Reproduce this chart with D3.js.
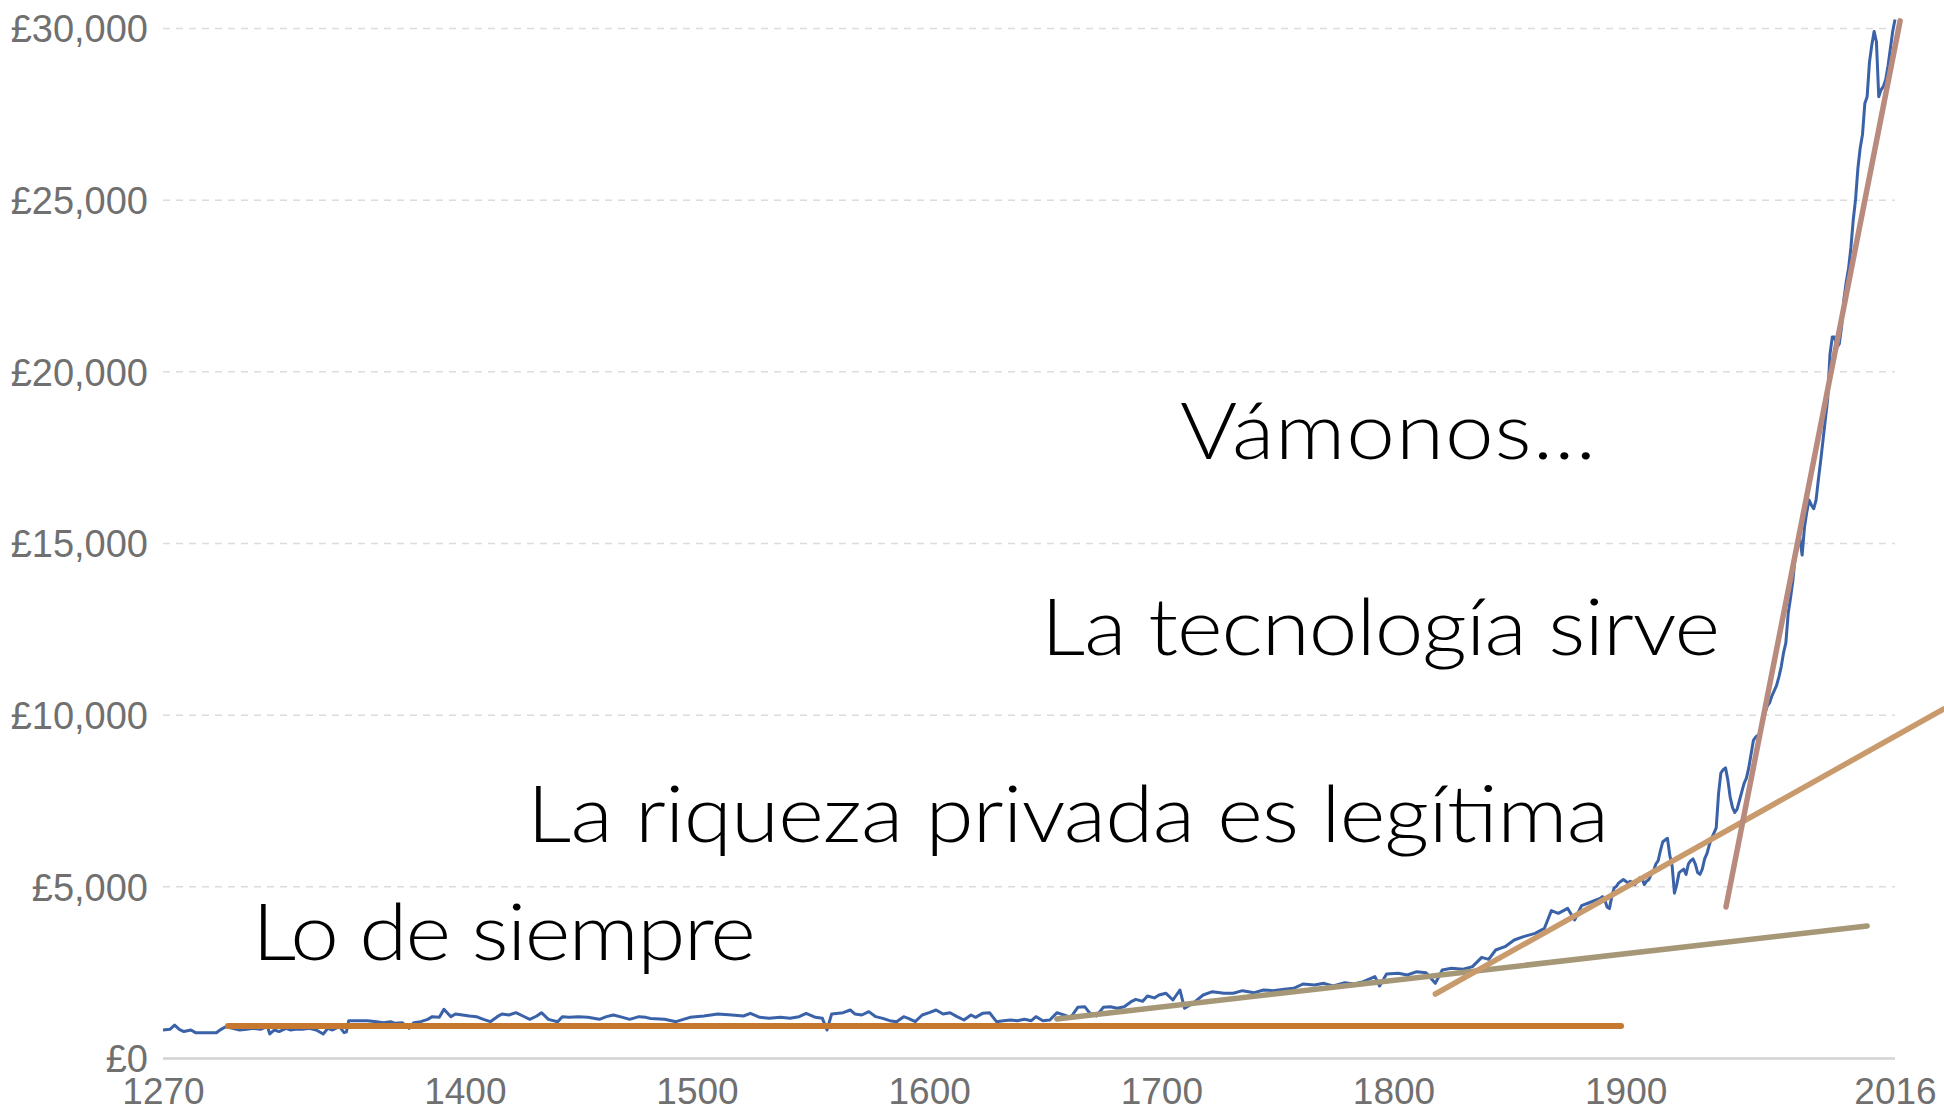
<!DOCTYPE html>
<head>
  <title>PIB por persona en Inglaterra 1270 - 2016</title>
  <meta charset="utf-8">
  <script type="text/javascript" src="https://d3js.org/d3.v7.min.js"></script>
  <style>
    body { margin: 0; background: #ffffff; }
  </style>
</head>

<body>

<div id="container"></div>

<script>

  let svg_width = 1944;
  let svg_height = 1112;

  let padding = {
    top: 28,
    right: 49,
    bottom: 54,
    left: 163
  };

  // GDP per head (£), split by period
  let gdp_medieval = [[1270, 816], [1273, 835], [1275, 960], [1277, 835], [1279, 770], [1282, 816], [1284, 738],
    [1287, 738], [1290, 738], [1293, 738], [1295, 835], [1297, 912], [1300, 864], [1303, 816], [1306, 835],
    [1309, 864], [1312, 835], [1315, 912], [1316, 700], [1318, 816], [1320, 770], [1323, 864], [1325, 816],
    [1327, 835], [1330, 835], [1333, 864], [1336, 816], [1339, 700], [1341, 864], [1343, 816], [1346, 912],
    [1348, 738], [1349, 760], [1350, 1087], [1353, 1087], [1358, 1087], [1362, 1058], [1365, 1030], [1368, 1058],
    [1370, 1010], [1373, 1030], [1376, 864], [1378, 1030], [1381, 1058], [1384, 1126], [1386, 1204], [1389, 1184],
    [1391, 1418], [1394, 1204], [1396, 1282], [1399, 1252], [1402, 1223], [1405, 1204], [1408, 1126], [1411, 1058],
    [1414, 1204], [1416, 1282], [1419, 1252], [1422, 1320], [1425, 1223], [1428, 1126], [1431, 1223], [1433, 1320],
    [1436, 1126], [1440, 1058], [1442, 1204], [1445, 1184], [1449, 1204], [1453, 1184], [1458, 1126], [1461, 1204],
    [1464, 1252], [1468, 1184], [1471, 1126], [1475, 1204], [1478, 1184]];

  let gdp_early_modern = [[1480, 1150], [1486, 1126], [1491, 1058], [1497, 1184], [1503, 1223], [1509, 1282],
    [1515, 1252], [1520, 1223], [1523, 1301], [1527, 1184], [1531, 1155], [1536, 1184], [1540, 1155], [1544, 1204],
    [1547, 1301], [1551, 1184], [1554, 1155], [1556, 816], [1558, 1282], [1563, 1320], [1566, 1398], [1568, 1282],
    [1571, 1252], [1574, 1350], [1577, 1204], [1580, 1155], [1583, 1087], [1586, 1058], [1589, 1204], [1591, 1155],
    [1594, 1058], [1597, 1252], [1600, 1320], [1603, 1398], [1606, 1282], [1609, 1320], [1612, 1204], [1615, 1107],
    [1618, 1252], [1620, 1184], [1623, 1301], [1626, 1320], [1629, 1058], [1632, 1087], [1635, 1107], [1638, 1087],
    [1641, 1126], [1644, 1087], [1646, 1204], [1649, 1087], [1652, 1107], [1655, 1320], [1658, 1252], [1661, 1184],
    [1664, 1476], [1667, 1495], [1669, 1320], [1672, 1223], [1675, 1476], [1678, 1495], [1681, 1447], [1684, 1495],
    [1687, 1641], [1689, 1709], [1692, 1650], [1694, 1806]];

  let gdp_industrial = [[1697, 1750], [1699, 1835], [1702, 1884], [1705, 1689], [1708, 1981], [1710, 1447],
    [1714, 1612], [1718, 1835], [1722, 1932], [1727, 1884], [1731, 1884], [1735, 1961], [1740, 1903], [1744, 1981],
    [1748, 1961], [1753, 2000], [1757, 2029], [1761, 2155], [1766, 2126], [1770, 2175], [1774, 2097], [1779, 2194],
    [1783, 2155], [1787, 2223], [1792, 2369], [1794, 2097], [1797, 2447], [1802, 2466], [1806, 2418], [1810, 2515],
    [1814, 2486], [1818, 2175], [1821, 2563], [1825, 2612], [1830, 2583], [1834, 2660], [1838, 2932], [1841, 2874],
    [1844, 3146], [1848, 3243], [1852, 3437], [1856, 3534], [1861, 3631], [1865, 3777], [1868, 4292], [1871, 4214],
    [1875, 4359], [1878, 4020], [1881, 4437], [1884, 4515]];

  let gdp_modern = [[1889, 4650], [1890, 4700], [1891, 4600], [1892, 4400], [1893, 4350], [1894, 4700],
    [1895, 4950], [1896, 5000], [1897, 5100], [1898, 5150], [1899, 5200], [1900, 5150], [1901, 5100], [1902, 5150],
    [1903, 5100], [1904, 5050], [1905, 5150], [1906, 5250], [1907, 5250], [1908, 5050], [1909, 5150], [1910, 5200],
    [1911, 5350], [1912, 5450], [1913, 5650], [1914, 5750], [1915, 6050], [1916, 6300], [1917, 6350], [1918, 6400],
    [1919, 5900], [1920, 5600], [1921, 4800], [1922, 5050], [1923, 5400], [1924, 5450], [1925, 5500], [1926, 5350],
    [1927, 5650], [1928, 5750], [1929, 5800], [1930, 5650], [1931, 5400], [1932, 5350], [1933, 5500], [1934, 5800],
    [1935, 5950], [1936, 6200], [1937, 6400], [1938, 6550], [1939, 6700], [1940, 7700], [1941, 8300], [1942, 8400],
    [1943, 8450], [1944, 8100], [1945, 7600], [1946, 7300], [1947, 7150], [1948, 7250], [1949, 7500], [1950, 7750],
    [1951, 8000], [1952, 8150], [1953, 8450], [1954, 8850], [1955, 9250], [1956, 9350], [1957, 9400], [1958, 9450],
    [1959, 9750], [1960, 10050], [1961, 10250], [1962, 10350], [1963, 10550], [1964, 10700], [1965, 10850],
    [1966, 11100], [1967, 11400], [1968, 11800], [1969, 12100], [1970, 12950], [1971, 13400], [1972, 13900],
    [1973, 14600], [1974, 14900], [1975, 15150], [1976, 14650], [1977, 15450], [1978, 15900], [1979, 16250],
    [1980, 16100], [1981, 16000], [1982, 16250], [1983, 16850], [1984, 17400], [1985, 18000], [1986, 18600],
    [1987, 19200], [1988, 20500], [1989, 21000], [1990, 21000], [1991, 20700], [1992, 20800], [1993, 21300],
    [1994, 22100], [1995, 22600], [1996, 23000], [1997, 23600], [1998, 24400], [1999, 25000], [2000, 25900],
    [2001, 26500], [2002, 26900], [2003, 27800], [2004, 28000], [2005, 29000], [2006, 29500], [2007, 29900],
    [2008, 29600], [2009, 28000], [2010, 28200], [2011, 28300], [2012, 28500], [2013, 28900], [2014, 29400],
    [2015, 29900], [2016, 30250]];

  let x_ticks = [1270, 1400, 1500, 1600, 1700, 1800, 1900, 2016];
  let y_ticks = [0, 5000, 10000, 15000, 20000, 25000, 30000];

  // the four hand drawn trend lines: [year, £]
  let trend_siempre = [[1298, 930], [1898, 930]];
  let trend_riqueza = [[1655, 1136], [2004, 3845]];
  let trend_tecnologia = [[1818, 1864], [2037, 10166]];
  let trend_vamonos = [[1943.2, 4398], [2018.2, 30207]];

  let annotation_labels = ["Lo de siempre", "La riqueza privada es legítima", "La tecnología sirve", "Vámonos…"];

  let trend_colors = ["#c7782f", "#a69877", "#c99a6b", "#b98b7f"];

  let gdp_data = gdp_medieval.concat(gdp_early_modern, gdp_industrial, gdp_modern);

  let xScale = d3.scaleLinear()
          .domain([1270, 2016])
          .range([padding.left, svg_width - padding.right]);

  let yScale = d3.scaleLinear()
          .domain([0, 30000])
          .range([svg_height - padding.bottom, padding.top]);

  let svg = d3.select("#container").append("svg")
          .attr("width", svg_width)
          .attr("height", svg_height)
          .style("display", "block");

  // grid lines
  svg.append("g")
          .attr("class", "grid")
          .attr("transform", "translate(" + padding.left + ",0)")
          .call(d3.axisLeft(yScale)
                  .tickValues(y_ticks)
                  .tickSize(-(svg_width - padding.right - padding.left))
                  .tickFormat(""))
          .call(function (g) { g.select(".domain").remove(); })
          .selectAll(".tick line")
          .attr("stroke", function (d) { return d === 0 ? "#d2d2d2" : "#dcdcdc"; })
          .attr("stroke-width", function (d) { return d === 0 ? 2.5 : 1.5; })
          .attr("stroke-dasharray", function (d) { return d === 0 ? null : "7,6"; });

  // y labels
  let y_axis = svg.append("g")
          .attr("class", "y_axis")
          .attr("transform", "translate(" + padding.left + ",0)")
          .call(d3.axisLeft(yScale)
                  .tickValues(y_ticks)
                  .tickSize(0)
                  .tickPadding(15)
                  .tickFormat(function (d) { return "£" + d3.format(",")(d); }));

  y_axis.select(".domain").remove();
  y_axis.selectAll("text")
          .attr("dy", "0.36em")
          .style("font-family", "'Liberation Sans', Helvetica, Arial, sans-serif")
          .style("font-size", "38px")
          .style("fill", "#707070");

  // x labels
  let x_axis = svg.append("g")
          .attr("class", "x_axis")
          .attr("transform", "translate(0," + (svg_height - padding.bottom) + ")")
          .call(d3.axisBottom(xScale)
                  .tickValues(x_ticks)
                  .tickSize(0)
                  .tickPadding(20)
                  .tickFormat(d3.format("d")));

  x_axis.select(".domain").remove();
  x_axis.selectAll("text")
          .style("font-family", "'Liberation Sans', Helvetica, Arial, sans-serif")
          .style("font-size", "37px")
          .style("fill", "#707070");

  // the GDP series
  svg.append("path")
          .datum(gdp_data)
          .attr("fill", "none")
          .attr("stroke", "#3a62a8")
          .attr("stroke-width", 3)
          .attr("stroke-linejoin", "round")
          .attr("d", d3.line()
                  .x(function (d) { return xScale(d[0]); })
                  .y(function (d) { return yScale(d[1]); }));

  // trend lines on top
  let trends = [trend_siempre, trend_riqueza, trend_tecnologia, trend_vamonos];

  for (let i = 0; i < trends.length; i = i + 1) {

    svg.append("path")
            .datum(trends[i])
            .attr("fill", "none")
            .attr("stroke", trend_colors[i])
            .attr("stroke-width", i === 0 ? 6 : 5.5)
            .attr("stroke-linecap", "round")
            .attr("d", d3.line()
                    .x(function (d) { return xScale(d[0]); })
                    .y(function (d) { return yScale(d[1]); }));

  }

  // annotations, anchored in chart units: [year, £, width in px]
  // the original face is a wide geometric sans, so the glyphs get a horizontal stretch
  let annotation_anchor = [[1308.3, 2855, 504], [1426.8, 6292, 1082], [1648.2, 11739, 679], [1708.0, 17449, 416]];
  let stretch = 1.12;

  for (let i = 0; i < annotation_labels.length; i = i + 1) {

    svg.append("text")
            .attr("transform", "translate(" + xScale(annotation_anchor[i][0]) + "," + yScale(annotation_anchor[i][1]) + ") scale(" + stretch + ",1)")
            .attr("textLength", annotation_anchor[i][2] / stretch)
            .attr("lengthAdjust", "spacing")
            .style("font-family", "'Century Gothic', Lato, sans-serif")
            .style("font-weight", 300)
            .style("font-size", "78px")
            .style("fill", "#000000")
            .text(annotation_labels[i]);

  }

</script>

</body>
